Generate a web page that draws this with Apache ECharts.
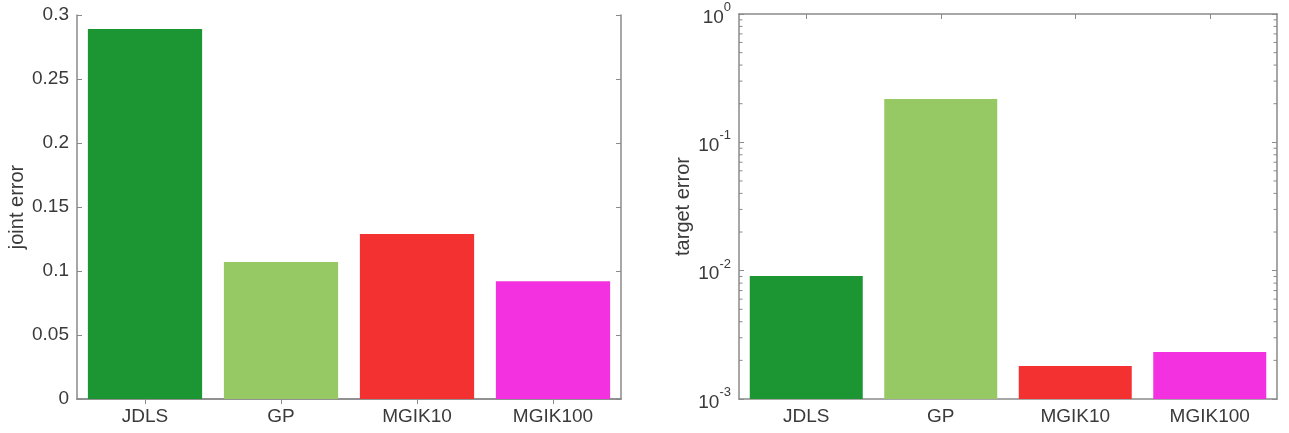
<!DOCTYPE html>
<html>
<head>
<meta charset="utf-8">
<script src="https://cdn.jsdelivr.net/npm/echarts@6/dist/echarts.min.js"></script>
<style>
  html, body { margin: 0; padding: 0; background: #fff; }
  #chart { width: 1289px; height: 433px; }
</style>
</head>
<body>
<div id="chart"></div>
<script>
// data
const methods = ['JDLS', 'GP', 'MGIK10', 'MGIK100'];
const jointError = [0.289, 0.107, 0.129, 0.092];
const targetError = [0.0091, 0.218, 0.00181, 0.00232];
const barColors = ['#1b9633', '#96c864', '#f43131', '#f431e0'];
const logMin = 0.001, logMax = 1;

const axisGray = '#8a8a8a';
const textGray = '#3a3a3a';
const font = '"Liberation Sans", Arial, sans-serif';

const chart = echarts.init(document.getElementById('chart'));

function barData(vals) {
  return vals.map((v, i) => ({ value: v, itemStyle: { color: barColors[i] } }));
}

function catAxis(gridIndex, pos, showLabel) {
  return {
    type: 'category', gridIndex: gridIndex, position: pos, data: methods,
    axisLine: { show: true, lineStyle: { color: axisGray, width: 1.5 } },
    axisTick: { show: true, inside: true, alignWithLabel: true, length: 5, lineStyle: { color: axisGray } },
    axisLabel: { show: showLabel, color: textGray, fontSize: 19, fontFamily: font, margin: 8 },
    splitLine: { show: false }
  };
}

const supLabel = function (v) {
  const e = Math.round(Math.log10(v));
  return '{b|10}{s|' + e + '}';
};

const option = {
  animation: false,
  textStyle: { fontFamily: font },
  grid: [
    { left: 77, top: 15, width: 544, height: 384 },
    { left: 739, top: 14, width: 538, height: 385 }
  ],
  xAxis: [
    catAxis(0, 'bottom', true),
    catAxis(0, 'top', false),
    catAxis(1, 'bottom', true),
    catAxis(1, 'top', false)
  ],
  yAxis: [
    {
      type: 'value', gridIndex: 0, min: 0, max: 0.3, interval: 0.05, position: 'left',
      name: 'joint error', nameLocation: 'middle', nameGap: 50,
      nameTextStyle: { color: textGray, fontSize: 20, fontFamily: font },
      axisLine: { show: true, lineStyle: { color: axisGray, width: 1.5 } },
      axisTick: { show: true, inside: true, length: 5, lineStyle: { color: axisGray } },
      axisLabel: {
        color: textGray, fontSize: 19, fontFamily: font, margin: 8,
        formatter: v => String(+v.toFixed(2))
      },
      splitLine: { show: false }
    },
    {
      type: 'value', gridIndex: 0, min: 0, max: 0.3, interval: 0.05, position: 'right',
      axisLine: { show: true, lineStyle: { color: axisGray, width: 1.5 } },
      axisTick: { show: true, inside: true, length: 5, lineStyle: { color: axisGray } },
      axisLabel: { show: false },
      splitLine: { show: false }
    },
    {
      type: 'log', logBase: 10, gridIndex: 1, min: logMin, max: logMax, position: 'left',
      name: 'target error', nameLocation: 'middle', nameGap: 46,
      nameTextStyle: { color: textGray, fontSize: 20, fontFamily: font },
      axisLine: { show: true, lineStyle: { color: axisGray, width: 1.5 } },
      axisTick: { show: true, inside: true, length: 5, lineStyle: { color: axisGray } },
      axisLabel: {
        margin: 8,
        formatter: supLabel,
        rich: {
          b: { color: textGray, fontSize: 19, fontFamily: font, verticalAlign: 'bottom', lineHeight: 22 },
          s: { color: textGray, fontSize: 13, fontFamily: font, verticalAlign: 'top', lineHeight: 26 }
        }
      },
      splitLine: { show: false }
    },
    {
      type: 'log', logBase: 10, gridIndex: 1, min: logMin, max: logMax, position: 'right',
      axisLine: { show: true, lineStyle: { color: axisGray, width: 1.5 } },
      axisTick: { show: true, inside: true, length: 5, lineStyle: { color: axisGray } },
      axisLabel: { show: false },
      splitLine: { show: false }
    }
  ],
  series: [
    {
      type: 'bar', xAxisIndex: 0, yAxisIndex: 0, barWidth: '84%',
      data: barData(jointError)
    },
    {
      // log-axis bars grow from the axis minimum, like MATLAB does
      type: 'custom', xAxisIndex: 2, yAxisIndex: 2,
      encode: { x: 0, y: 1 },
      data: targetError.map((v, i) => [i, v]),
      renderItem: function (params, api) {
        const i = api.value(0);
        const top = api.coord([i, api.value(1)]);
        const base = api.coord([i, logMin]);
        const w = api.size([1, 0])[0] * 0.84;
        return {
          type: 'rect',
          shape: { x: top[0] - w / 2, y: top[1], width: w, height: base[1] - top[1] },
          style: { fill: barColors[i] }
        };
      }
    }
  ]
};

chart.setOption(option);

// log-axis minor ticks at 2..9 x 10^n, placed through the axis scale
const minor = [];
for (let e = -3; e < 0; e++) {
  for (let k = 2; k <= 9; k++) {
    const v = k * Math.pow(10, e);
    const p = chart.convertToPixel({ xAxisIndex: 2, yAxisIndex: 2 }, [0, v]);
    if (!p) continue;
    const y = p[1];
    minor.push({
      type: 'line', silent: true, z: 100,
      shape: { x1: 739, y1: y, x2: 742.5, y2: y },
      style: { stroke: axisGray, lineWidth: 1 }
    });
    minor.push({
      type: 'line', silent: true, z: 100,
      shape: { x1: 1273.5, y1: y, x2: 1277, y2: y },
      style: { stroke: axisGray, lineWidth: 1 }
    });
  }
}
chart.setOption({ graphic: { elements: minor } });
</script>
</body>
</html>
